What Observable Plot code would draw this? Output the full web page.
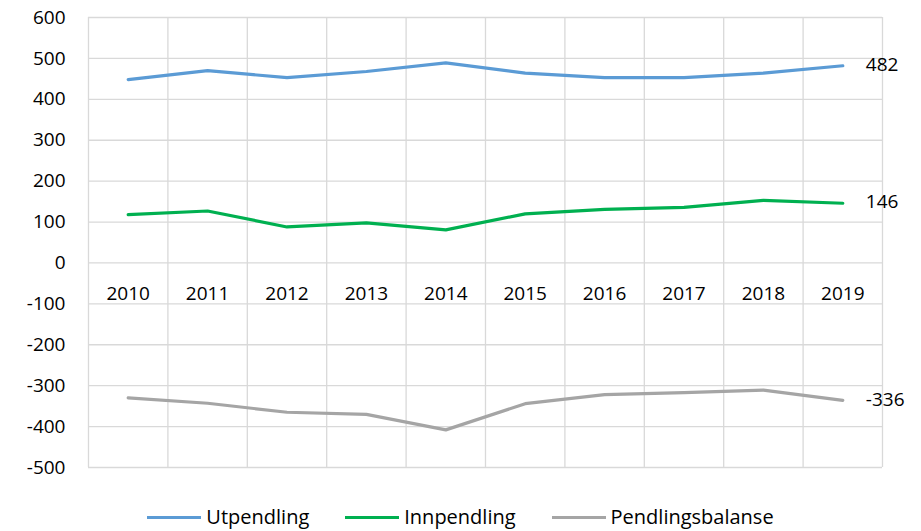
<!DOCTYPE html>
<html>
<head>
<meta charset="utf-8">
<script src="https://cdn.jsdelivr.net/npm/d3@7"></script>
<script src="https://cdn.jsdelivr.net/npm/@observablehq/plot@0.6"></script>
<style>
  html, body { margin: 0; padding: 0; background: #fff; }
  #wrap { width: 921px; height: 531px; position: relative; font-family: "Open Sans", sans-serif; color: #000; }
  #legend { position: absolute; left: 0; top: 504px; width: 921px; display: flex; justify-content: center; align-items: center; font-size: 20px; line-height: 26px; }
  .item { display: flex; align-items: center; margin: 0 18px; }
  .sw { width: 54px; height: 3px; margin-right: 5px; }
</style>
</head>
<body>
<div id="wrap">
  <div id="chart"></div>
  <div id="legend"></div>
</div>
<script>
const years = [2010, 2011, 2012, 2013, 2014, 2015, 2016, 2017, 2018, 2019];
const seriesNames = ["Utpendling", "Innpendling", "Pendlingsbalanse"];
const seriesColors = ["#5B9BD5", "#00B050", "#A5A5A5"];
const utpendling = [448, 470, 453, 468, 489, 464, 453, 453, 464, 482];
const innpendling = [118, 127, 88, 98, 81, 120, 131, 136, 153, 146];
const pendlingsbalanse = [-330, -343, -365, -370, -408, -344, -322, -317, -311, -336];
const yTicks = [-500, -400, -300, -200, -100, 0, 100, 200, 300, 400, 500, 600];

const seriesValues = [utpendling, innpendling, pendlingsbalanse];
const table = [];
seriesNames.forEach((s, i) => years.forEach((y, j) => table.push({series: s, year: y, value: seriesValues[i][j]})));
const last = table.filter(d => d.year === years[years.length - 1]);
const bounds = years.map(y => y - 0.5).concat([years[years.length - 1] + 0.5]);

const chart = Plot.plot({
  width: 921,
  height: 490,
  marginLeft: 88,
  marginRight: 39,
  marginTop: 17,
  marginBottom: 23,
  style: {fontFamily: "Open Sans, sans-serif", fontSize: "19px", color: "#000", background: "#fff"},
  x: {domain: [bounds[0], bounds[bounds.length - 1]], axis: null},
  y: {domain: [-500, 600], label: null},
  color: {domain: seriesNames, range: seriesColors},
  marks: [
    Plot.ruleY(yTicks, {stroke: "#D9D9D9", strokeWidth: 1.3, strokeOpacity: 1}),
    Plot.ruleX(bounds, {stroke: "#D9D9D9", strokeWidth: 1.3, strokeOpacity: 1}),
    Plot.axisY({ticks: yTicks, tickSize: 0, tickPadding: 23, tickFormat: d => String(d), label: null, fill: "#000", fontSize: 19}),
    Plot.text(years, {x: d => d, y: 0, dy: 31, text: d => String(d), fill: "#000", fontSize: 19}),
    Plot.line(table, {x: "year", y: "value", z: "series", stroke: "series", strokeWidth: 3.2}),
    Plot.text(last, {x: "year", y: "value", text: d => String(d.value), dx: 23, dy: -1, textAnchor: "start", fill: "#000", fontSize: 19})
  ]
});
document.getElementById("chart").appendChild(chart);

const legend = document.getElementById("legend");
seriesNames.forEach((s, i) => {
  const it = document.createElement("div");
  it.className = "item";
  const sw = document.createElement("div");
  sw.className = "sw";
  sw.style.background = seriesColors[i];
  const tx = document.createElement("span");
  tx.textContent = s;
  it.appendChild(sw);
  it.appendChild(tx);
  legend.appendChild(it);
});
</script>
</body>
</html>
